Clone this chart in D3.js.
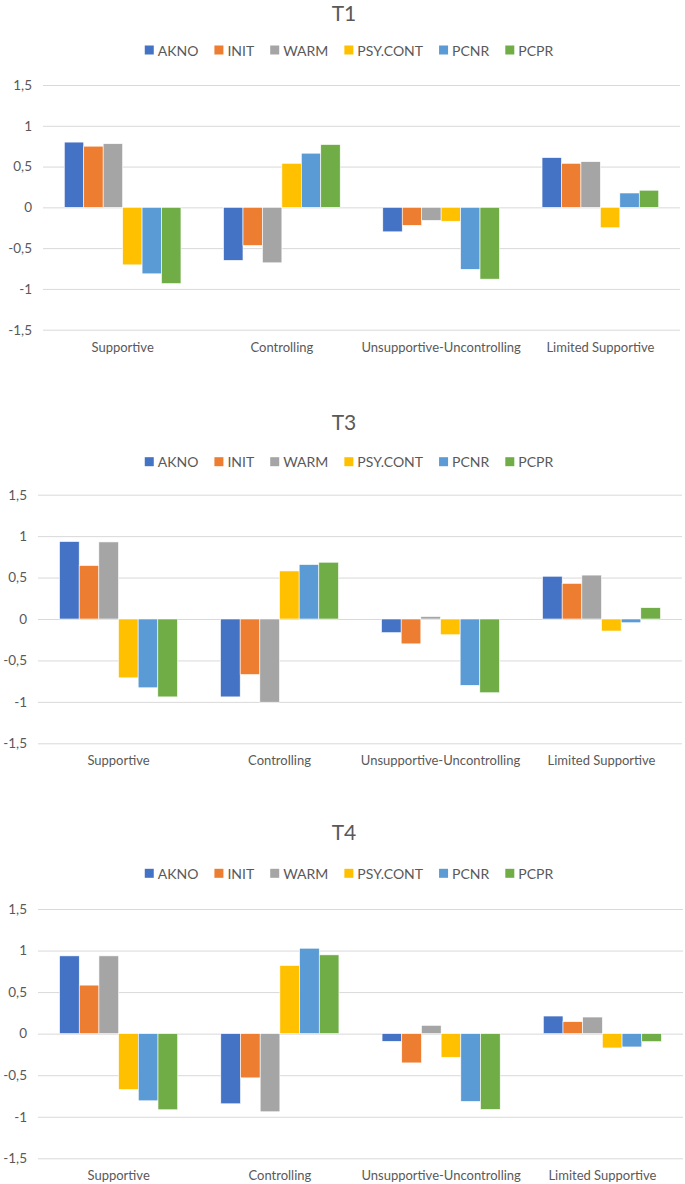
<!DOCTYPE html>
<html>
<head>
<meta charset="utf-8">
<script src="https://cdn.jsdelivr.net/npm/d3@7/dist/d3.min.js"></script>
<style>
  html, body { margin: 0; padding: 0; background: #fff; }
  svg { display: block; }
  text { font-family: Lato, "Open Sans", sans-serif; fill: #595959; }
</style>
</head>
<body>
<svg id="chart" width="685" height="1184"></svg>
<script>
// ---------- data ----------
const categories = ["Supportive", "Controlling", "Unsupportive-Uncontrolling", "Limited Supportive"];
const seriesNames = ["AKNO", "INIT", "WARM", "PSY.CONT", "PCNR", "PCPR"];
const seriesColors = ["#4472C4", "#ED7D31", "#A5A5A5", "#FFC000", "#5B9BD5", "#70AD47"];
const tickValues = [1.5, 1, 0.5, 0, -0.5, -1, -1.5];
const tickLabels = ["1,5", "1", "0,5", "0", "-0,5", "-1", "-1,5"];
const panelTitles = ["T1", "T3", "T4"];

// values[category][series]
const valuesT1 = [
  [0.80, 0.75, 0.78, -0.705, -0.815, -0.935],
  [-0.65, -0.467, -0.68, 0.54, 0.664, 0.77],
  [-0.30, -0.22, -0.16, -0.17, -0.76, -0.88],
  [0.61, 0.54, 0.56, -0.25, 0.176, 0.21]
];
const valuesT3 = [
  [0.935, 0.645, 0.93, -0.71, -0.83, -0.94],
  [-0.94, -0.67, -1.004, 0.58, 0.657, 0.685],
  [-0.165, -0.30, 0.03, -0.19, -0.80, -0.89],
  [0.516, 0.43, 0.53, -0.145, -0.045, 0.137]
];
const valuesT4 = [
  [0.936, 0.584, 0.936, -0.672, -0.808, -0.916],
  [-0.844, -0.532, -0.94, 0.82, 1.028, 0.948],
  [-0.092, -0.352, 0.10, -0.284, -0.816, -0.912],
  [0.212, 0.144, 0.20, -0.172, -0.16, -0.096]
];
const panelValues = [valuesT1, valuesT3, valuesT4];

// ---------- layout ----------
const layouts = [
  { titleY: 12,    legendY: 50,    top: 85,    bottom: 329.7,  labelY: 347,    left: 43, right: 680 },
  { titleY: 421.7, legendY: 461.7, top: 494.7, bottom: 743.3,  labelY: 760.7,  left: 38, right: 682 },
  { titleY: 831.7, legendY: 873.3, top: 909,   bottom: 1158.3, labelY: 1175.7, left: 38, right: 683 }
];

const svg = d3.select("#chart");

panelTitles.forEach((title, pi) => {
  const L = layouts[pi];
  const data = panelValues[pi];
  const g = svg.append("g");

  // title
  g.append("text")
    .attr("x", 344).attr("y", L.titleY)
    .attr("text-anchor", "middle").attr("dominant-baseline", "central")
    .style("font-size", "21px")
    .text(title);

  // legend
  const leg = g.append("g");
  let xCursor = 0;
  seriesNames.forEach((name, i) => {
    const item = leg.append("g").attr("transform", `translate(${xCursor},0)`);
    item.append("rect").attr("x", 0).attr("y", -4.5).attr("width", 9).attr("height", 9)
      .attr("fill", seriesColors[i]);
    const t = item.append("text").attr("x", 13).attr("y", 0)
      .attr("dominant-baseline", "central")
      .style("font-size", "14px").text(name);
    const w = t.node().getComputedTextLength();
    xCursor += 13 + w + 16;
  });
  const legW = xCursor - 16;
  leg.attr("transform", `translate(${349 - legW / 2},${L.legendY})`);

  // scales
  const y = d3.scaleLinear().domain([-1.5, 1.5]).range([L.bottom, L.top]);
  const x0 = d3.scaleBand().domain(categories).range([L.left, L.right]).padding(0);
  const step = x0.bandwidth();
  const barW = step / (6 + 2.19);
  const gap = 2.19 * barW;
  const x1 = d3.scaleBand().domain(seriesNames).range([gap / 2, step - gap / 2]).padding(0);

  // gridlines
  const yAxis = d3.axisLeft(y).tickValues(tickValues)
    .tickFormat((d, i) => tickLabels[i])
    .tickSize(-(L.right - L.left)).tickPadding(11);
  const ax = g.append("g").attr("transform", `translate(${L.left},0)`).call(yAxis);
  ax.select(".domain").remove();
  ax.selectAll(".tick line").attr("stroke", "#D9D9D9").attr("stroke-width", 1);
  ax.selectAll(".tick text").style("font-size", "13.5px").attr("fill", "#595959")
    .style("font-family", "Lato, sans-serif");

  // bars
  const groups = g.selectAll(".cat").data(categories).enter().append("g")
    .attr("transform", d => `translate(${x0(d)},0)`);
  groups.each(function(cat, ci) {
    d3.select(this).selectAll("rect").data(seriesNames).enter().append("rect")
      .attr("x", s => x1(s))
      .attr("width", x1.bandwidth())
      .attr("y", (s, si) => Math.min(y(data[ci][si]), y(0)))
      .attr("height", (s, si) => Math.abs(y(data[ci][si]) - y(0)))
      .attr("fill", (s, si) => seriesColors[si])
      .attr("stroke", "#ffffff").attr("stroke-width", 0.6);
  });

  // category labels
  const xAxis = d3.axisBottom(x0).tickSize(0).tickPadding(0);
  const xa = g.append("g").attr("transform", `translate(0,${L.labelY})`).call(xAxis);
  xa.select(".domain").remove();
  xa.selectAll(".tick text").attr("dy", "0.35em").attr("y", 0)
    .style("font-size", "13px").attr("fill", "#595959")
    .style("font-family", "Lato, sans-serif");
});
</script>
</body>
</html>
